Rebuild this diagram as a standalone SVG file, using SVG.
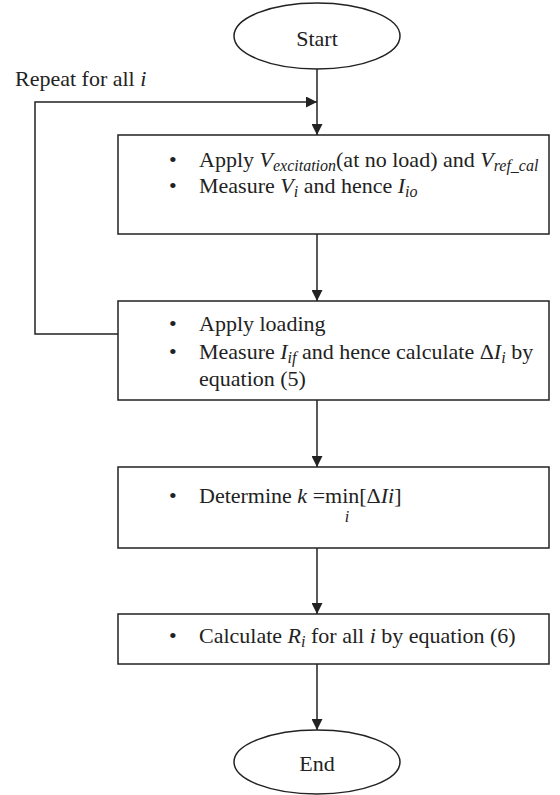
<svg xmlns="http://www.w3.org/2000/svg" width="560" height="795" viewBox="0 0 560 795">
<style>
  .shape { fill: #fff; stroke: #222; stroke-width: 1.5; }
  .conn { fill: none; stroke: #222; stroke-width: 1.5; }
  text { font-family: "Liberation Serif", "Times New Roman", Times, serif; font-size: 22px; fill: #222; }
  .it { font-style: italic; }
  .sub { font-size: 16px; font-style: italic; }
</style>
<defs>
  <marker id="arr" viewBox="0 0 10 10" refX="10" refY="5" markerWidth="11" markerHeight="11" markerUnits="userSpaceOnUse" orient="auto">
    <path d="M0,0 L10,5 L0,10 Z" fill="#222"/>
  </marker>
</defs>
<rect width="560" height="795" fill="#fff"/>

<g id="connectors">
  <path class="conn" d="M317,69 V135" marker-end="url(#arr)"/>
  <path class="conn" d="M118,334 H35 V102 H317" marker-end="url(#arr)"/>
  <path class="conn" d="M317,234 V301" marker-end="url(#arr)"/>
  <path class="conn" d="M317,400 V467" marker-end="url(#arr)"/>
  <path class="conn" d="M317,548 V614" marker-end="url(#arr)"/>
  <path class="conn" d="M317,664 V730" marker-end="url(#arr)"/>
</g>

<text id="loop-label" x="15" y="86">Repeat for all <tspan class="it">i</tspan></text>

<g id="start">
  <ellipse class="shape" cx="317" cy="36" rx="83" ry="33"/>
  <text x="317" y="46" text-anchor="middle">Start</text>
</g>

<g id="step1">
  <rect class="shape" x="118" y="135" width="431" height="99"/>
  <text x="169" y="167">•</text>
  <text x="199" y="167">Apply <tspan class="it">V</tspan><tspan class="sub" dy="4">excitation</tspan><tspan dy="-4">(at no load) and </tspan><tspan class="it">V</tspan><tspan class="sub" dy="4">ref_cal</tspan></text>
  <text x="169" y="193">•</text>
  <text x="199" y="193">Measure <tspan class="it">V</tspan><tspan class="sub" dy="4">i</tspan><tspan dy="-4"> and hence </tspan><tspan class="it">I</tspan><tspan class="sub" dy="4">io</tspan></text>
</g>

<g id="step2">
  <rect class="shape" x="118" y="301" width="431" height="99"/>
  <text x="169" y="331">•</text>
  <text x="199" y="331">Apply loading</text>
  <text x="169" y="359">•</text>
  <text x="199" y="359">Measure <tspan class="it">I</tspan><tspan class="sub" dy="4">if</tspan><tspan dy="-4"> and hence calculate Δ</tspan><tspan class="it">I</tspan><tspan class="sub" dy="4">i</tspan><tspan dy="-4"> by</tspan></text>
  <text x="199" y="386">equation (5)</text>
</g>

<g id="step3">
  <rect class="shape" x="118" y="467" width="431" height="81"/>
  <text x="169" y="503">•</text>
  <text x="199" y="503">Determine <tspan class="it">k</tspan> =min[Δ<tspan class="it">I</tspan><tspan class="it">i</tspan>]</text>
  <text class="sub" x="347" y="522" text-anchor="middle">i</text>
</g>

<g id="step4">
  <rect class="shape" x="118" y="614" width="431" height="50"/>
  <text x="169" y="643">•</text>
  <text x="199" y="643">Calculate <tspan class="it">R</tspan><tspan class="sub" dy="4">i</tspan><tspan dy="-4"> for all </tspan><tspan class="it">i</tspan> by equation (6)</text>
</g>

<g id="end">
  <ellipse class="shape" cx="317" cy="762" rx="83" ry="32"/>
  <text x="317" y="771" text-anchor="middle">End</text>
</g>
</svg>
